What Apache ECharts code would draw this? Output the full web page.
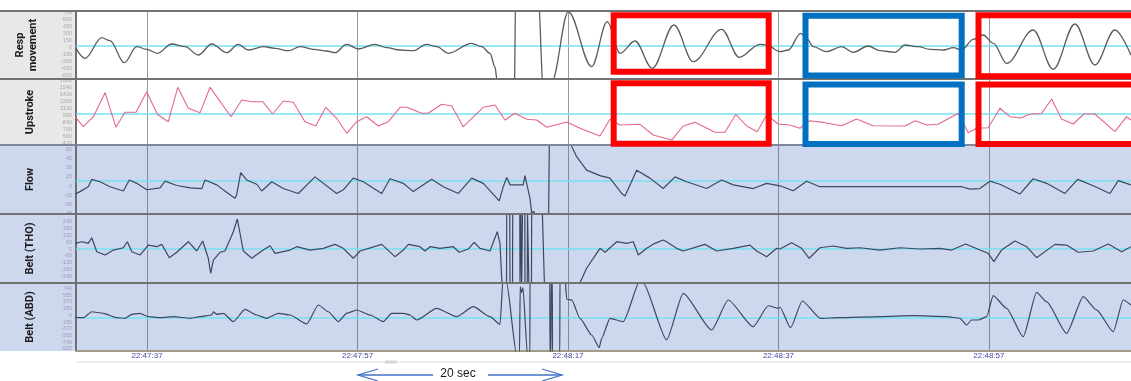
<!DOCTYPE html>
<html>
<head>
<meta charset="utf-8">
<script src="https://cdn.jsdelivr.net/npm/echarts@6.0.0/dist/echarts.min.js"></script>
<style>
  html, body { margin: 0; padding: 0; background: #fff; }
  #chart { width: 1131px; height: 381px; }
</style>
</head>
<body>
<div id="chart"></div>
<script>
// time in seconds relative to 22:47:37
const BASE_SEC = 22 * 3600 + 47 * 60 + 37;
const timeTicks = [0, 20, 40, 60, 80];
const T_MIN = -6.75;
const T_MAX = 93.5;

const panelNames = ["Resp\nmovement", "Upstroke", "Flow", "Belt (THO)", "Belt (ABD)"];

const respTicks = [-600, -450, -300, -150, 0, 150, 300, 450, 600, 750];
const upTicks = [420, 560, 700, 840, 980, 1120, 1260, 1400, 1540, 1680];
const flowTicks = [-45, -30, -15, 0, 15, 30, 45, 60];
const thoTicks = [-240, -180, -120, -60, 0, 60, 120, 180, 240];
const abdTicks = [-925, -740, -555, -370, -185, 0, 185, 370, 555, 740];

// baseline (cyan) level per panel
const baseLevels = [40, 1025, 8, 0, -55];

// [seconds, value]
const respMovement = [
  [-6.75,-13],[-5.89,-225],[-4.3,212],[-3.52,148],[-2.16,-318],[-0.98,21],[-0.03,-34],[0.98,-119],
  [2.35,78],[3.61,21],[4.87,-155],[6.15,78],[7.57,-106],[8.67,72],[9.62,-49],[11.05,21],[12.16,-13],
  [13.43,-64],[14.54,21],[15.8,-34],[17.07,-70],[17.86,-106],[18.97,72],[20.08,-28],[21.66,72],
  [22.77,0],[24.04,-49],[25.3,-64],[26.57,72],[27.53,21],[28.63,-119],[30.85,93],[31.8,21],
  [32.59,-119],[33.06,-403],[33.25,-670],[33.6,-1500],[34.86,-1500],[35.06,1500],[37.05,1500],
  [37.81,-1500],[38.2,-1500],[38.48,-700],[40.03,760],[42.25,-403],[43.73,551],[44.94,-119],
  [46.37,142],[48.01,-437],[50.07,481],[51.9,-297],[54.6,390],[56.27,-204],[58.24,72],[58.88,57],
  [60.14,-85],[60.93,-49],[62.11,305],[62.68,199],[63.31,21],[64.58,-85],[66.0,21],[67.11,-98],
  [68.53,36],[69.64,-64],[71.07,-98],[72.02,57],[73.28,21],[74.39,-34],[75.66,-49],[76.61,0],
  [77.41,-49],[78.51,178],[79.46,269],[80.41,93],[81.68,-331],[84.21,375],[86.11,-458],[88.17,502],
  [90.07,-367],[91.97,375],[93.49,-155]
];

const upstroke = [
  [-6.84,956],[-6.05,755],[-5.1,956],[-3.99,1439],[-2.95,743],[-2.09,1045],[-1.05,1045],[-0.03,1459],
  [0.98,1004],[2.02,856],[2.92,1547],[3.92,1125],[5.04,1037],[5.99,1547],[7.98,956],[9.0,1292],
  [9.95,1258],[10.99,1258],[11.94,1010],[12.95,1272],[13.9,1246],[15.01,856],[16.03,769],[16.98,1145],
  [18.02,924],[18.97,622],[19.92,856],[20.87,956],[21.98,769],[22.93,856],[24.04,1145],[24.67,1145],
  [26.1,1024],[26.73,1024],[28.0,1206],[28.95,1171],[30.05,755],[31.95,1145],[33.06,1192],[34.01,890],
  [34.96,1024],[36.08,904],[37.03,890],[37.98,743],[39.88,850],[41.14,723],[43.04,568],[43.99,904],
  [44.94,789],[46.84,803],[48.1,588],[49.85,487],[50.95,769],[52.06,843],[53.96,642],[54.91,642],
  [55.96,1004],[56.98,769],[57.98,655],[58.88,990],[59.98,809],[61.09,789],[62.04,723],[62.99,876],
  [64.41,836],[66.0,775],[67.43,910],[69.0,775],[72.02,769],[73.0,876],[74.08,789],[75.18,803],
  [77.08,1024],[78.03,635],[78.83,723],[79.93,735],[81.04,1125],[81.99,956],[83.01,930],[83.89,1004],
  [85.0,1024],[85.96,1312],[86.9,910],[88.01,809],[89.02,1010],[90.07,1010],[91.97,655],[93.08,956],
  [93.49,890]
];

const flow = [
  [-6.84,-13],[-6.37,-9],[-5.58,-1],[-5.25,11],[-4.47,7],[-3.52,-1],[-2.25,-8],[-1.68,10],[-0.98,4.5],
  [-0.03,-6],[1.24,-3],[1.71,8],[2.82,1],[4.09,-3],[5.2,-4],[5.51,10],[6.62,2],[7.72,-12],[8.36,-20],
  [8.52,-14],[8.9,22],[9.47,10],[10.42,3],[10.9,-8],[11.85,7],[12.95,-4],[14.37,-12],[15.96,15],
  [18.02,-12],[18.65,-6],[19.6,13],[20.55,7],[22.3,-12],[23.09,12],[24.35,4.5],[25.3,-9],[27.05,11],
  [28.15,-1],[29.58,-12],[30.85,13],[31.95,4.5],[33.47,-24],[33.85,-1],[34.18,14],[34.49,2],[35.75,2],
  [35.91,17],[36.39,-20],[36.55,-44],[36.77,-41],[36.96,-60],[38.15,-60],[38.24,90],[40.28,90],
  [40.35,65],[40.82,48],[41.77,26],[43.04,17],[43.99,13],[45.1,-12],[45.42,-16],[46.53,26],[47.79,13],
  [49.05,-4],[50.17,15],[51.28,7],[53.18,-4],[54.6,10],[55.7,2],[57.6,-4],[58.88,4.5],[60.14,0.5],
  [61.4,-7.5],[62.68,8],[63.94,-1],[66.48,-1],[69.64,-1],[72.81,-1],[77.41,-1],[78.2,-5],[79.14,-4],
  [80.09,8],[81.04,3],[82.94,-13],[84.21,12],[85.48,4.5],[87.22,-12],[88.43,11],[89.91,0.5],
  [91.5,-12],[92.29,9],[93.49,2]
];

const beltTho = [
  [-6.84,49],[-6.2,63],[-5.58,49],[-5.25,97],[-4.78,-23],[-3.99,-52],[-3.2,-9],[-2.25,11],[-1.87,63],
  [-1.45,-23],[-0.67,-52],[0.12,34],[0.92,20],[1.4,40],[2.12,-75],[2.82,-28],[3.92,63],[4.72,-17],
  [5.29,69],[5.82,-80],[6.05,-209],[6.3,-95],[6.94,-28],[7.41,-17],[8.2,149],[8.58,259],[9.15,-17],
  [9.95,-80],[10.9,-17],[11.69,28],[12.16,-37],[13.59,-9],[14.22,20],[15.49,-9],[16.75,6],[17.86,40],
  [18.65,6],[19.6,-80],[20.24,-17],[22.3,40],[23.56,-66],[24.35,-9],[24.83,40],[25.94,20],[26.41,-17],
  [26.89,20],[27.84,6],[29.1,20],[29.67,-28],[30.53,0],[31.07,58],[31.64,6],[32.59,-17],[33.28,149],
  [33.54,49],[33.7,-253],[33.82,-330],[34.16,-330],[34.18,330],[34.47,330],[34.49,-330],[34.73,-330],
  [34.75,330],[35.42,330],[35.44,-330],[35.5,-330],[35.52,330],[35.58,330],[35.6,-330],[35.66,-330],
  [35.68,330],[35.9,330],[35.91,-330],[36.13,-330],[36.15,330],[36.27,330],[36.29,-330],[36.53,-330],
  [36.55,330],[37.56,330],[37.77,-330],[40.95,-330],[41.14,-290],[41.77,-166],[42.72,-37],[43.04,6],
  [43.52,-28],[44.63,63],[45.58,49],[46.21,63],[46.68,-52],[47.48,6],[48.26,49],[49.05,78],[49.37,63],
  [50.33,6],[50.95,-17],[53.01,40],[54.13,-17],[55.7,6],[57.29,34],[57.92,-17],[58.88,-66],[59.83,6],
  [60.14,0],[61.25,54],[62.2,6],[62.92,-80],[63.94,11],[65.2,26],[66.48,6],[67.74,11],[69.64,-9],
  [71.54,11],[73.44,0],[75.34,6],[76.45,-9],[77.79,43],[79.14,-9],[79.93,-37],[80.47,-109],[81.2,-9],
  [82.47,69],[83.58,20],[84.53,-75],[86.27,40],[87.38,34],[88.48,-28],[89.91,-17],[91.34,43],
  [92.61,-23],[93.49,20]
];

const beltAbd = [
  [-6.84,-67],[-6.05,-67],[-5.25,97],[-4.15,54],[-2.88,-67],[-2.09,-83],[-1.45,27],[-0.67,54],
  [0.12,-39],[1.24,-67],[2.5,-39],[4.09,-83],[5.04,-39],[6.15,7],[6.3,97],[6.62,27],[7.25,54],
  [8.2,-176],[9.31,164],[10.42,7],[11.37,-83],[12.47,54],[13.59,7],[15.17,-240],[16.28,282],[17.23,97],
  [18.18,-176],[18.97,54],[19.92,145],[21.19,7],[22.45,-176],[23.25,54],[24.35,54],[24.99,7],
  [25.62,-130],[27.52,191],[29.42,-39],[31.0,235],[32.59,-39],[33.54,-248],[33.85,1100],[34.11,1000],
  [35.13,-1100],[35.39,-1100],[35.46,784],[35.58,620],[35.72,760],[36.15,-1100],[36.38,-1100],
  [36.39,1100],[38.27,1100],[38.29,-1100],[38.38,-1100],[38.41,1100],[38.51,1100],[38.53,-1100],
  [39.22,-1100],[39.24,1100],[39.7,1100],[39.88,440],[40.35,420],[41.14,-83],[42.25,-542],
  [42.97,-890],[43.2,-632],[43.99,-83],[45.25,-176],[46.91,1000],[47.15,880],[49.37,-675],[50.95,603],
  [53.65,-404],[55.23,419],[57.6,-314],[59.03,262],[59.98,191],[60.14,220],[61.15,-341],[62.26,392],
  [64.0,-83],[65.75,-67],[69.64,-39],[72.81,-12],[75.98,-39],[77.24,-83],[77.88,-267],[78.35,-130],
  [78.98,-130],[79.78,-39],[80.41,537],[81.68,191],[83.26,-588],[84.53,630],[85.48,372],[87.38,-498],
  [88.96,510],[90.23,149],[91.81,-452],[92.76,419],[93.49,282]
];

const panels = [
  { top: 11,  height: 68, min: -664, max: 778,  ticks: respTicks, data: respMovement, color: "#5b5b5b", width: 1.3, smooth: 0.35, light: true },
  { top: 79,  height: 66, min: 387,  max: 1714, ticks: upTicks,   data: upstroke,     color: "#e5668c", width: 1.1, smooth: false, light: true },
  { top: 145, height: 69, min: -45.5, max: 67,  ticks: flowTicks, data: flow,         color: "#3f4760", width: 1.2, smooth: false, light: false },
  { top: 214, height: 69, min: -293, max: 302,  ticks: thoTicks,  data: beltTho,      color: "#3f4760", width: 1.2, smooth: false, light: false },
  { top: 283, height: 68, min: -981, max: 886,  ticks: abdTicks,  data: beltAbd,      color: "#3f4760", width: 1.2, smooth: 0.2, light: false }
];

function fmtTime(t) {
  const s = BASE_SEC + Math.round(t);
  const pad = (n) => String(n).padStart(2, "0");
  return pad(Math.floor(s / 3600)) + ":" + pad(Math.floor(s / 60) % 60) + ":" + pad(s % 60);
}

const chart = echarts.init(document.getElementById("chart"), null, { renderer: "canvas" });

const grids = [], xAxes = [], yAxes = [], series = [];
panels.forEach((p, i) => {
  grids.push({ left: 76, right: 0, top: p.top, height: p.height, containLabel: false, outerBoundsMode: "none" });
  xAxes.push({
    type: "value", gridIndex: i, min: T_MIN, max: T_MAX,
    axisLine: { show: i === 4, onZero: false, lineStyle: { color: "#a29b85", width: 2 } },
    axisTick: { show: false, customValues: timeTicks },
    splitLine: { show: true, lineStyle: { color: p.light ? "#9a9a9a" : "#7f889c", width: 1 } },
    axisLabel: {
      show: i === 4, customValues: timeTicks, formatter: fmtTime,
      color: "#4646a6", fontSize: 8, margin: 1, fontFamily: "Liberation Sans, Arial, sans-serif"
    }
  });
  yAxes.push({
    type: "value", gridIndex: i, min: p.min, max: p.max,
    name: panelNames[i], nameLocation: "middle", nameRotate: 90, nameGap: i === 0 ? 36 : 39,
    nameTextStyle: {
      color: "#1c1c1c", fontSize: 11, fontWeight: "bold", lineHeight: 13,
      fontFamily: "Liberation Sans Narrow, Roboto, sans-serif"
    },
    axisLine: { show: true, onZero: false, lineStyle: { color: "#6f6f6f", width: 2 } },
    axisTick: { show: false },
    splitLine: { show: false },
    axisLabel: {
      customValues: p.ticks, formatter: (v) => String(v),
      color: p.light ? "#a9a9a9" : "#9a9fb0", fontSize: 5.5, margin: 4,
      fontFamily: "Liberation Sans, Arial, sans-serif"
    }
  });
  series.push({
    type: "line", xAxisIndex: i, yAxisIndex: i, data: p.data, symbol: "none",
    smooth: p.smooth, smoothMonotone: "x",
    clip: true, z: 3,
    lineStyle: { color: p.color, width: p.width },
    markLine: {
      silent: true, symbol: "none", z: 2, label: { show: false },
      lineStyle: { color: "#74e2f2", type: "solid", width: 1.5, opacity: 1 },
      data: [{ yAxis: baseLevels[i] }]
    }
  });
});

const bgRects = [
  { type: "rect", z: -10, shape: { x: 0, y: 11, width: 1131, height: 134 }, style: { fill: "#ffffff" } },
  { type: "rect", z: -9, shape: { x: 0, y: 11, width: 76, height: 134 }, style: { fill: "#e8e8e8" } },
  { type: "rect", z: -10, shape: { x: 0, y: 145, width: 1131, height: 206 }, style: { fill: "#cdd8ee" } }
];
const sepLines = [11, 79, 145, 214, 283].map((y) => ({
  type: "line", z: 50, shape: { x1: 0, y1: y, x2: 1131, y2: y },
  style: { stroke: y === 145 ? "#7d869a" : "#727272", lineWidth: 2 }
}));
const boxes = [
  { x1: 613.7, y1: 15.3, x2: 768.7, y2: 71.7, c: "#ff0000" },
  { x1: 613.7, y1: 83.3, x2: 768.7, y2: 143.7, c: "#ff0000" },
  { x1: 805.5, y1: 15.8, x2: 961.7, y2: 75.5, c: "#0070c0" },
  { x1: 805.5, y1: 84.5, x2: 961.7, y2: 144, c: "#0070c0" },
  { x1: 978.5, y1: 15.3, x2: 1145, y2: 76.3, c: "#ff0000" },
  { x1: 978.5, y1: 84.5, x2: 1145, y2: 144, c: "#ff0000" }
].map((b) => ({
  type: "rect", z: 60,
  shape: { x: b.x1, y: b.y1, width: b.x2 - b.x1, height: b.y2 - b.y1 },
  style: { fill: "none", stroke: b.c, lineWidth: 6 }
}));
const arrowColor = "#4472c4";
const arrowY = 375;
const arrow = [
  { type: "line", shape: { x1: 358, y1: arrowY, x2: 433, y2: arrowY }, style: { stroke: arrowColor, lineWidth: 1.3 } },
  { type: "polyline", shape: { points: [[378, arrowY - 6], [358, arrowY], [378, arrowY + 6]] }, style: { stroke: arrowColor, lineWidth: 1.3, fill: "none" } },
  { type: "line", shape: { x1: 488, y1: arrowY, x2: 562, y2: arrowY }, style: { stroke: arrowColor, lineWidth: 1.3 } },
  { type: "polyline", shape: { points: [[542, arrowY - 6], [562, arrowY], [542, arrowY + 6]] }, style: { stroke: arrowColor, lineWidth: 1.3, fill: "none" } },
  {
    type: "text", x: 458, y: 374,
    style: { text: "20 sec", fill: "#1a1a1a", font: "12px 'Liberation Sans', Arial, sans-serif", textAlign: "center", textVerticalAlign: "middle" }
  }
];
const footer = [
  { type: "line", shape: { x1: 76, y1: 362, x2: 1131, y2: 362 }, style: { stroke: "#ededed", lineWidth: 2 } },
  { type: "rect", shape: { x: 385, y: 360.5, width: 12, height: 3 }, style: { fill: "#d6d6d6" } }
];

chart.setOption({
  animation: false,
  backgroundColor: "#ffffff",
  grid: grids,
  xAxis: xAxes,
  yAxis: yAxes,
  series: series,
  graphic: { elements: [...bgRects, ...footer, ...sepLines, ...boxes, ...arrow] }
});
</script>
</body>
</html>
